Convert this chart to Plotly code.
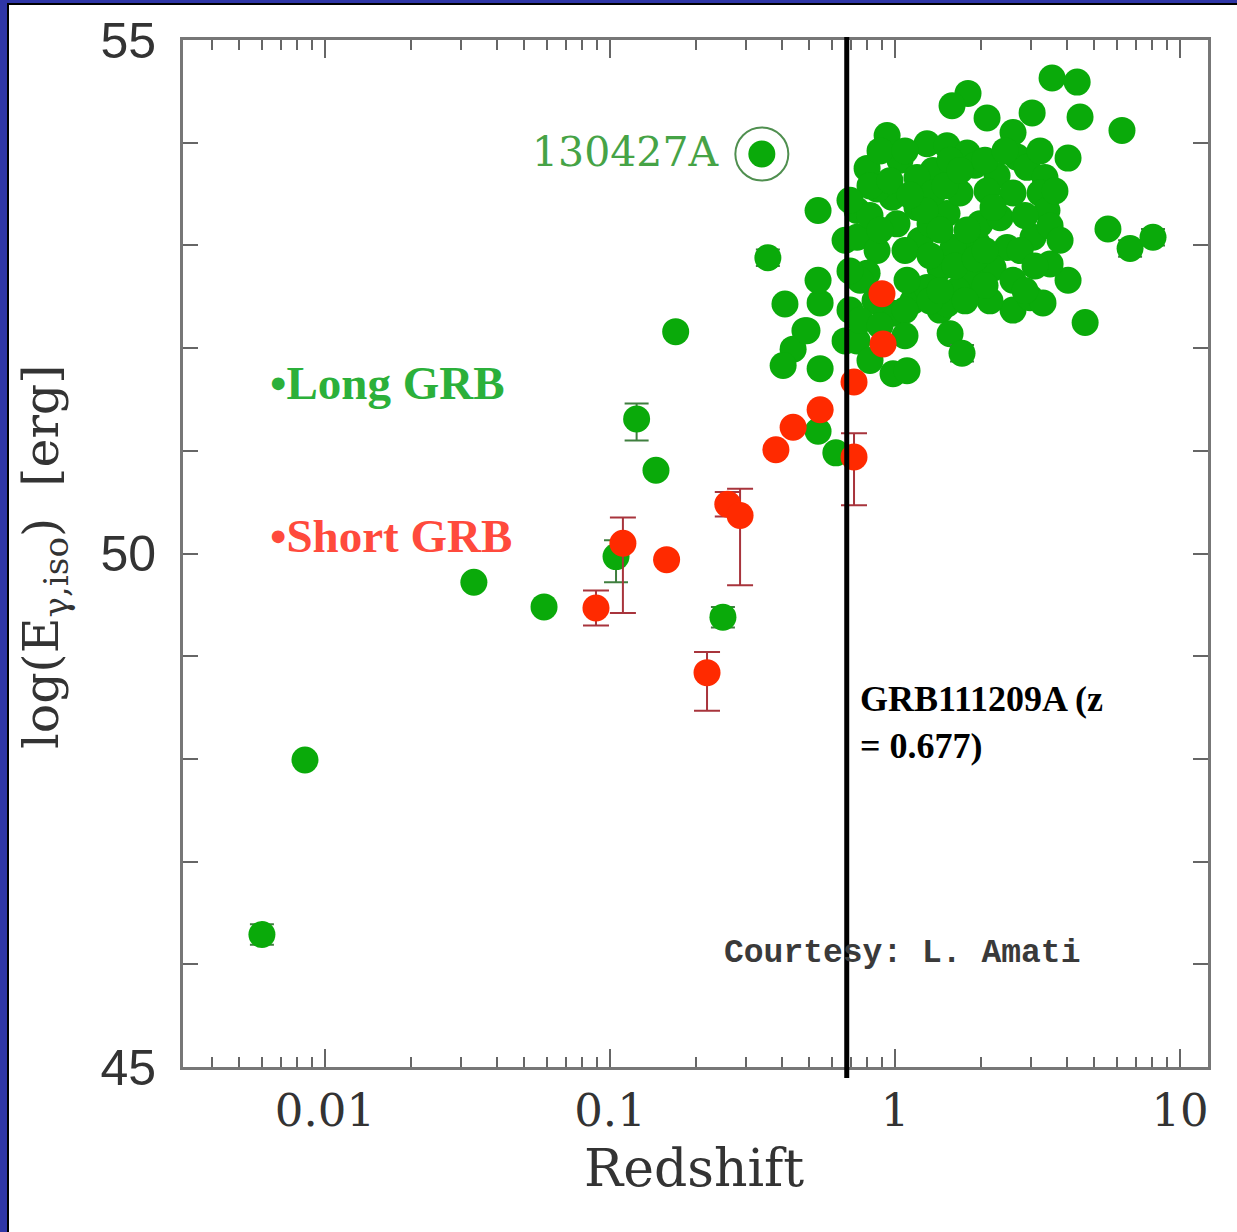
import plotly.graph_objects as go

# ---- Long GRBs: redshift and log isotropic energy ----
long_z = [0.0333, 0.0587, 0.145, 0.170, 0.341, 0.537, 0.62,
          0.411, 0.546, 0.537, 0.537, 0.483, 0.439, 0.405, 0.546, 0.668, 0.668, 0.695,
          0.736, 0.817, 0.984, 1.102, 0.984, 1.157, 1.439, 1.560, 2.594, 2.977,
          4.645, 4.046, 3.304, 3.499, 5.585, 6.255, 4.458, 3.556, 4.355,
          1.803, 1.585, 2.103, 3.027, 2.594, 0.938, 1.295, 1.522, 1.791, 4.046,
          0.798, 1.041, 2.679, 2.280, 2.904, 3.358, 1.359, 1.194,
          0.736, 0.976, 1.016, 0.736, 0.865, 0.798, 1.224, 1.194, 1.522, 1.690,
          2.103, 2.594, 3.228, 3.412, 3.049, 2.472, 1.941, 1.599, 1.439, 2.208,
          2.594, 1.879, 1.651, 1.295, 1.102, 2.153, 1.522, 1.987, 2.336, 1.791,
          1.327, 1.359, 2.208, 0.865, 0.491,
          0.886, 1.084, 1.560, 1.909, 0.817, 0.960, 1.497, 1.690, 2.069, 2.432,
          3.640, 3.499, 2.858, 2.746, 0.817, 0.886, 1.084, 1.327, 1.624, 1.909,
          3.098, 2.858, 2.069, 1.761, 1.327, 1.084, 0.851, 0.754, 0.754, 0.886,
          1.084, 1.439, 2.069, 3.793, 3.228, 1.274, 1.439, 1.129, 0.695, 0.695]
long_e = [49.72, 49.48, 50.81, 52.16, 53.89, 51.19, 50.98,
          52.43, 52.44, 52.66, 53.34, 52.17, 51.99, 51.83, 51.80, 53.05, 52.07, 52.37,
          52.07, 51.88, 51.75, 51.78, 52.34, 52.46, 52.37, 52.14, 52.37, 52.49,
          52.25, 52.66, 52.44, 52.82, 53.16, 54.12, 54.25, 54.63, 54.59,
          54.48, 54.36, 54.24, 54.29, 54.10, 54.07, 53.99, 53.97, 53.90, 53.85,
          53.75, 53.83, 53.86, 53.68, 53.76, 53.66, 53.73, 53.66,
          53.34, 53.47, 53.21, 53.08, 52.95, 52.73, 53.05, 53.37, 53.31, 53.51,
          53.53, 53.51, 53.51, 53.34, 53.08, 52.98, 53.02, 52.98, 52.78, 52.78,
          52.66, 52.66, 52.56, 52.59, 52.66, 52.46, 52.43, 53.21, 53.27, 53.15,
          53.21, 53.51, 53.37, 53.55, 52.17,
          53.92, 53.92, 53.83, 53.78, 53.58, 53.63, 53.58, 53.73, 53.83, 53.92,
          53.53, 53.19, 53.29, 52.95, 53.29, 53.15, 52.95, 52.90, 52.80, 52.87,
          52.80, 52.56, 52.61, 52.46, 52.46, 52.37, 52.46, 52.66, 52.27, 52.22,
          52.12, 52.56, 52.95, 53.05, 53.92, 53.34, 53.15, 53.49, 53.44, 52.75]

# Long GRBs drawn with error bars
long_err_z = [0.00601, 0.00851, 0.105, 0.249, 0.124, 0.358, 1.718, 6.677, 8.036]
long_err_e = [46.29, 47.99, 49.97, 49.38, 51.31, 52.88, 51.95, 52.97, 53.08]
long_err_hi = [0.10, 0.05, 0.16, 0.10, 0.15, 0.08, 0.08, 0.08, 0.08]
long_err_lo = [0.10, 0.05, 0.25, 0.10, 0.21, 0.08, 0.08, 0.08, 0.08]

# ---- Short GRBs ----
short_z = [0.0893, 0.111, 0.158, 0.219, 0.259, 0.286, 0.382, 0.439, 0.546,
           0.718, 0.718, 0.908, 0.900]
short_e = [49.47, 50.10, 49.94, 48.84, 50.48, 50.37, 51.01, 51.23, 51.40,
           51.67, 50.94, 52.04, 52.53]
short_err_hi = [0.17, 0.25, 0.0, 0.20, 0.12, 0.26, 0.0, 0.0, 0.0, 0.0, 0.23, 0.0, 0.0]
short_err_lo = [0.17, 0.68, 0.0, 0.37, 0.12, 0.68, 0.0, 0.0, 0.0, 0.0, 0.47, 0.0, 0.0]

# highlighted bursts
grb130427a_z = [0.341]
grb130427a_e = [53.89]
grb111209a_z = 0.677

# axis ticks
x_major = [0.01, 0.1, 1, 10]
x_major_text = ["0.01", "0.1", "1", "10"]
x_minor = [m * 10 ** d for d in range(-3, 2) for m in range(2, 10)]
y_major = [45, 50, 55]
y_major_text = ["45", "50", "55"]

GREEN = "#0aaa0a"
RED = "#ff2a00"

W, H = 1237, 1232
ML, MR, MT, MB = 183, 29, 40, 165
PW, PH = W - ML - MR, H - MT - MB


def px_x(p):
    return (p - ML) / PW


def px_y(p):
    return (H - MB - p) / PH


fig = go.Figure()

fig.add_trace(go.Scatter(
    x=long_z, y=long_e, mode="markers",
    marker=dict(size=27, color=GREEN, line=dict(width=0)),
    showlegend=False, hoverinfo="x+y"))

fig.add_trace(go.Scatter(
    x=long_err_z, y=long_err_e, mode="markers",
    marker=dict(size=27, color=GREEN, line=dict(width=0)),
    error_y=dict(type="data", symmetric=False, array=long_err_hi,
                 arrayminus=long_err_lo, color="#3f7f3f", thickness=2, width=12),
    showlegend=False, hoverinfo="x+y"))

fig.add_trace(go.Scatter(
    x=short_z, y=short_e, mode="markers",
    marker=dict(size=27, color=RED, line=dict(width=0)),
    error_y=dict(type="data", symmetric=False, array=short_err_hi,
                 arrayminus=short_err_lo, color="#a8343c", thickness=2, width=13),
    showlegend=False, hoverinfo="x+y"))

# ring around GRB 130427A
fig.add_trace(go.Scatter(
    x=grb130427a_z, y=grb130427a_e, mode="markers",
    marker=dict(size=53, symbol="circle-open", color="#4f8f4f", line=dict(width=2)),
    showlegend=False, hoverinfo="skip"))

shapes = [
    # GRB111209A redshift marker
    dict(type="line", xref="x", yref="paper", x0=grb111209a_z, x1=grb111209a_z,
         y0=px_y(1078), y1=px_y(37), line=dict(color="black", width=5), layer="above"),
    # slide frame: blue bars with black edge on left and top
    dict(type="rect", xref="paper", yref="paper", x0=px_x(0), x1=px_x(7),
         y0=px_y(H), y1=px_y(0), fillcolor="#2f36a6", line=dict(width=0), layer="above"),
    dict(type="rect", xref="paper", yref="paper", x0=px_x(7), x1=px_x(9),
         y0=px_y(H), y1=px_y(4), fillcolor="black", line=dict(width=0), layer="above"),
    dict(type="rect", xref="paper", yref="paper", x0=px_x(0), x1=px_x(W),
         y0=px_y(3), y1=px_y(0), fillcolor="#2f36a6", line=dict(width=0), layer="above"),
    dict(type="rect", xref="paper", yref="paper", x0=px_x(7), x1=px_x(W),
         y0=px_y(5), y1=px_y(3), fillcolor="black", line=dict(width=0), layer="above"),
]

annotations = [
    dict(text="130427A", xref="paper", yref="paper", x=px_x(722), y=px_y(152),
         xanchor="right", yanchor="middle", showarrow=False,
         font=dict(family="DejaVu Serif", size=41, color="#46a346")),
    dict(text="<b>•Long GRB</b>", xref="paper", yref="paper", x=px_x(268), y=px_y(383),
         xanchor="left", yanchor="middle", showarrow=False,
         font=dict(family="Liberation Serif", size=47, color="#2bb03a")),
    dict(text="<b>•Short GRB</b>", xref="paper", yref="paper", x=px_x(268), y=px_y(536),
         xanchor="left", yanchor="middle", showarrow=False,
         font=dict(family="Liberation Serif", size=47, color="#ff4a3c")),
    dict(text="<b>GRB111209A (z<br>= 0.677)</b>", xref="paper", yref="paper",
         x=px_x(858), y=px_y(722), xanchor="left", yanchor="middle", align="left",
         showarrow=False, font=dict(family="Liberation Serif", size=36, color="black")),
    dict(text="<b>Courtesy: L. Amati</b>", xref="paper", yref="paper", x=px_x(722),
         y=px_y(953), xanchor="left", yanchor="middle", showarrow=False,
         font=dict(family="Liberation Mono", size=33, color="#3a3a3a")),
    dict(text="Redshift", xref="paper", yref="paper", x=px_x(694), y=px_y(1168),
         xanchor="center", yanchor="middle", showarrow=False,
         font=dict(family="DejaVu Serif", size=52, color="#333333")),
    dict(text="log(E<sub>γ,iso</sub>)  [erg]", xref="paper", yref="paper",
         x=px_x(44), y=px_y(557), xanchor="center", yanchor="middle", textangle=-90,
         showarrow=False, font=dict(family="DejaVu Serif", size=49, color="#333333")),
]

fig.update_layout(
    width=W, height=H, autosize=False,
    margin=dict(l=ML, r=MR, t=MT, b=MB, pad=0),
    paper_bgcolor="white", plot_bgcolor="white",
    shapes=shapes, annotations=annotations,
    xaxis=dict(type="log", range=[-2.498, 1.098], showgrid=False, zeroline=False,
               showline=True, linecolor="#777777", linewidth=3, mirror="ticks",
               ticks="inside", ticklen=18, tickwidth=2, tickcolor="#666666",
               tickvals=x_major, ticktext=x_major_text, ticklabelstandoff=2,
               tickfont=dict(family="DejaVu Serif", size=45, color="#333333"),
               minor=dict(tickvals=x_minor, ticks="inside", ticklen=10, tickwidth=2,
                          tickcolor="#666666", showgrid=False)),
    yaxis=dict(range=[45, 55], showgrid=False, zeroline=False,
               showline=True, linecolor="#777777", linewidth=3, mirror="ticks",
               ticks="inside", ticklen=15, tickwidth=2, tickcolor="#666666",
               tickvals=y_major, ticktext=y_major_text, ticklabelstandoff=14,
               tickfont=dict(family="Liberation Sans", size=50, color="#333333"),
               minor=dict(dtick=1, tick0=45, ticks="inside", ticklen=15, tickwidth=2,
                          tickcolor="#666666", showgrid=False)),
)

fig.write_html("out.html")
